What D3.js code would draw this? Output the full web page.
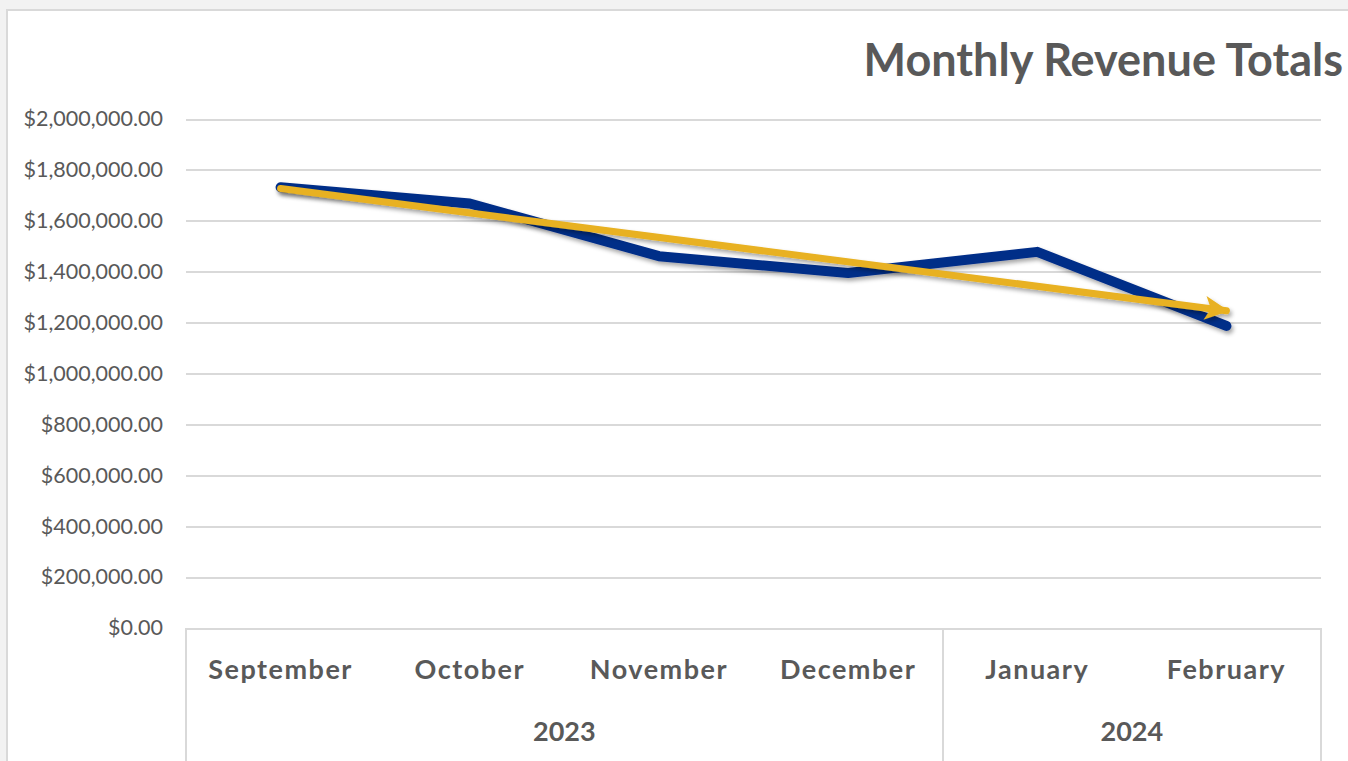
<!DOCTYPE html>
<html>
<head>
<meta charset="utf-8">
<script src="https://cdn.jsdelivr.net/npm/d3@7"></script>
<style>
  html, body { margin: 0; padding: 0; background: #f2f2f2; overflow: hidden; }
  svg { display: block; }
</style>
</head>
<body>
<svg id="chart" width="1348" height="761"></svg>
<script>
(function() {

    var months = ['September', 'October', 'November', 'December', 'January', 'February'];
    var years = ['2023', '2023', '2023', '2023', '2024', '2024'];
    var revenue = [1732000, 1668000, 1461000, 1395000, 1478000, 1187000];
    var yTicks = [0, 200000, 400000, 600000, 800000, 1000000, 1200000, 1400000, 1600000, 1800000, 2000000];
    var title = 'Monthly Revenue Totals';

    var font = 'Lato, "Open Sans", sans-serif';
    var textColor = '#595959';
    var gridColor = '#d9d9d9';

    var plot = { left: 186, right: 1321, top: 119, bottom: 628 };

    var svg = d3.select('#chart');

    var defs = svg.append('defs');
    var shadow = defs.append('filter')
        .attr('id', 'shadow')
        .attr('x', '-10%').attr('y', '-30%')
        .attr('width', '120%').attr('height', '160%');
    shadow.append('feDropShadow')
        .attr('dx', 2).attr('dy', 3)
        .attr('stdDeviation', 2)
        .attr('flood-color', '#000')
        .attr('flood-opacity', 0.35);

    defs.append('marker')
        .attr('id', 'arrow')
        .attr('viewBox', '0 0 10 10')
        .attr('refX', 9).attr('refY', 5)
        .attr('markerUnits', 'userSpaceOnUse')
        .attr('markerWidth', 26).attr('markerHeight', 24)
        .attr('orient', 'auto')
        .append('path')
        .attr('d', 'M0,0 L10,5 L0,10 L2.5,5 Z')
        .style('fill', '#e8b120');

    // chart area frame
    svg.append('rect')
        .attr('x', 7).attr('y', 10)
        .attr('width', 1348).attr('height', 760)
        .style('fill', '#fff')
        .style('stroke', '#d9d9d9')
        .style('stroke-width', 2);

    svg.append('text')
        .attr('x', 1343).attr('y', 76)
        .attr('text-anchor', 'end')
        .style('font-family', font)
        .style('font-weight', 'bold')
        .style('font-size', '45px')
        .style('fill', textColor)
        .text(title);

    var x = d3.scaleBand()
        .domain(d3.range(months.length))
        .range([plot.left, plot.right]);
    var y = d3.scaleLinear()
        .domain([0, 2000000])
        .range([plot.bottom, plot.top]);

    var fmt = d3.format('$,.2f');

    // gridlines + y labels via axis
    var yAxis = d3.axisLeft(y)
        .tickValues(yTicks)
        .tickSize(-(plot.right - plot.left))
        .tickPadding(23)
        .tickFormat(function(d) { return fmt(d); });

    var yg = svg.append('g')
        .attr('transform', 'translate(' + plot.left + ',0)')
        .call(yAxis);
    yg.select('.domain').remove();
    yg.selectAll('line')
        .style('stroke', gridColor)
        .style('stroke-width', 2)
        .style('shape-rendering', 'crispEdges');
    yg.selectAll('text')
        .style('font-family', font)
        .style('font-size', '21.5px')
        .style('fill', textColor);

    // category axis box
    var axisG = svg.append('g');
    var bottomEdge = 761;
    var yearGroups = d3.groups(d3.range(months.length), function(i) { return years[i]; });
    var boundaries = [plot.left];
    yearGroups.forEach(function(g) {
        var last = g[1][g[1].length - 1];
        boundaries.push(x(last) + x.bandwidth());
    });
    axisG.selectAll('line.sep')
        .data(boundaries).enter().append('line')
        .attr('class', 'sep')
        .attr('x1', function(d) { return d; })
        .attr('x2', function(d) { return d; })
        .attr('y1', plot.bottom).attr('y2', bottomEdge)
        .style('stroke', gridColor)
        .style('stroke-width', 2)
        .style('shape-rendering', 'crispEdges');

    axisG.selectAll('text.month')
        .data(months).enter().append('text')
        .attr('class', 'month')
        .attr('x', function(d, i) { return x(i) + x.bandwidth() / 2; })
        .attr('y', 668)
        .attr('text-anchor', 'middle')
        .attr('dominant-baseline', 'central')
        .style('font-family', font)
        .style('font-weight', 'bold')
        .style('font-size', '27px')
        .style('letter-spacing', '1.5px')
        .style('fill', textColor)
        .text(function(d) { return d; });

    axisG.selectAll('text.year')
        .data(yearGroups).enter().append('text')
        .attr('class', 'year')
        .attr('x', function(g) {
            var idx = g[1];
            return (x(idx[0]) + x(idx[idx.length - 1]) + x.bandwidth()) / 2;
        })
        .attr('y', 730)
        .attr('text-anchor', 'middle')
        .attr('dominant-baseline', 'central')
        .style('font-family', font)
        .style('font-weight', 'bold')
        .style('font-size', '27px')
        .style('fill', textColor)
        .text(function(g) { return g[0]; });

    var cx = function(i) { return x(i) + x.bandwidth() / 2; };

    // revenue line
    var line = d3.line()
        .x(function(d, i) { return cx(i); })
        .y(function(d) { return y(d); });

    svg.append('path')
        .datum(revenue)
        .attr('d', line)
        .attr('filter', 'url(#shadow)')
        .style('fill', 'none')
        .style('stroke', '#022d88')
        .style('stroke-width', 10)
        .style('stroke-linecap', 'round')
        .style('stroke-linejoin', 'round');

    // linear trendline (least squares fit of the revenue)
    var xs = d3.range(revenue.length);
    var mx = d3.mean(xs), my = d3.mean(revenue);
    var slope = d3.sum(xs, function(i) { return (i - mx) * (revenue[i] - my); }) /
        d3.sum(xs, function(i) { return (i - mx) * (i - mx); });
    var icpt = my - slope * mx;
    var trend = [0, revenue.length - 1].map(function(i) { return [cx(i), y(icpt + slope * i)]; });

    svg.append('path')
        .datum(trend)
        .attr('d', d3.line())
        .attr('filter', 'url(#shadow)')
        .attr('marker-end', 'url(#arrow)')
        .style('fill', 'none')
        .style('stroke', '#e8b120')
        .style('stroke-width', 7)
        .style('stroke-linecap', 'round');

}());
</script>
</body>
</html>
